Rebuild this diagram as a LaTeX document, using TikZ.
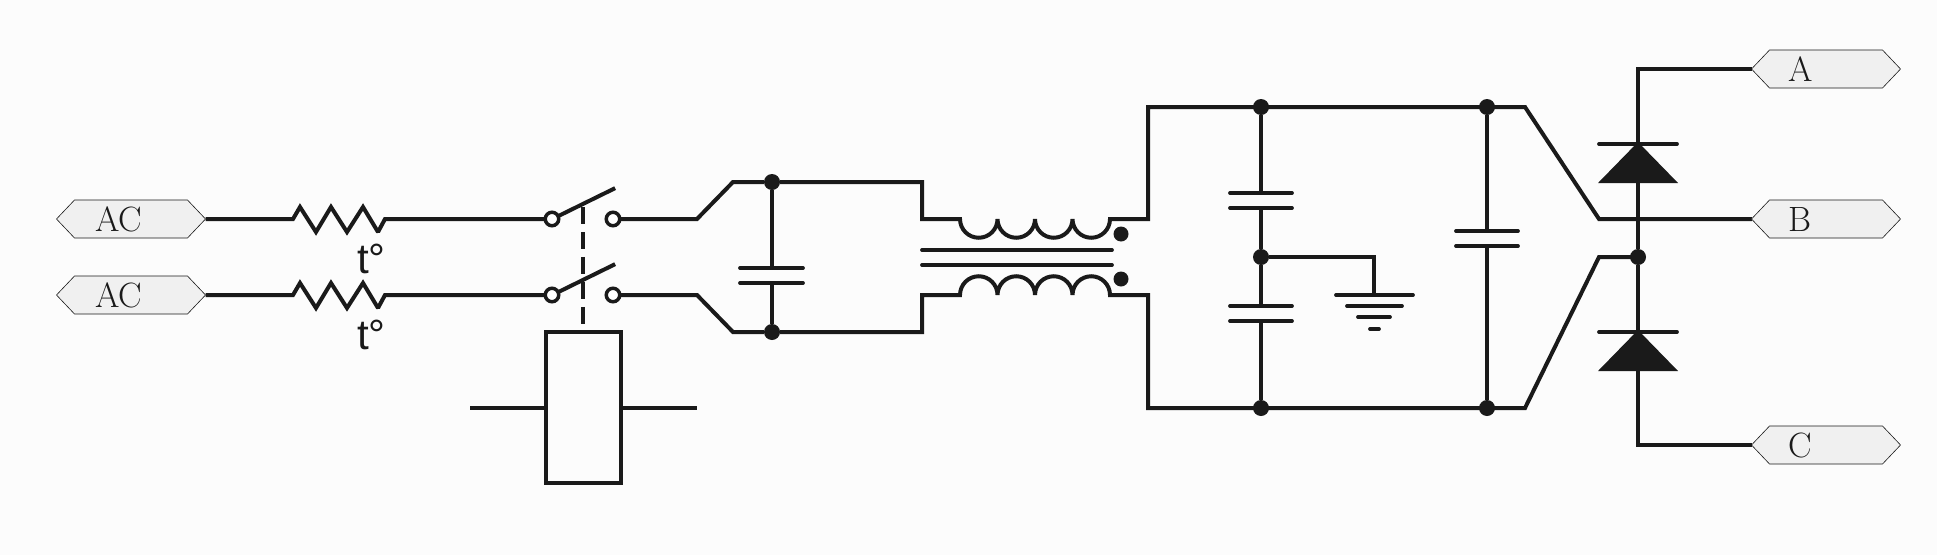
\documentclass[tikz,border=0pt]{standalone}
\usepackage{fontspec}
\newfontfamily\tempfont{Liberation Sans}
\usetikzlibrary{calc, positioning, shapes.symbols}
\definecolor{ink}{HTML}{1A1A1A}
\tikzset{
    wire/.style = {draw=ink, line width=0.08cm, line join=miter, miter limit=2},
    lead/.style = {draw=ink, line width=0.07cm},
    plate/.style = {draw=ink, line width=0.075cm, line cap=round},
    junction/.style = {circle, fill=ink, inner sep=0pt, outer sep=0pt, minimum size=0.32cm},
    terminal/.style = {circle, draw=ink, fill=white, line width=0.07cm, inner sep=0pt, outer sep=0pt, minimum size=0.27cm},
    tag/.style = {signal, signal to=east and west, signal pointer angle=93, draw=ink, line width=0.012cm, fill=black!6,
        inner xsep=0pt, inner ysep=0pt, outer sep=0pt, minimum height=0.76cm, text width=2.26cm, align=left,
        text=ink, font=\fontsize{20}{22}\selectfont},
    tempmark/.style = {inner sep=0pt, text=ink, font=\tempfont\fontsize{24}{26}\selectfont},
}
\begin{document}
\begin{tikzpicture}[x=0.02cm, y=-0.02cm]
    \fill[black!1] (0,0) rectangle (1937,555);
    \useasboundingbox (0,0) rectangle (1937,555);
    % input side
    \foreach \n/\y in {a/219,b/295}{
        \node[tag] (ac\n) at (131,\y) {\hspace{0.41cm}AC};
        \node[terminal] (sl\n) at (552,\y) {};
        \node[terminal] (sr\n) at (613,\y) {};
        \node[tempmark] (temp\n) at (371.5,\y+40) {t\textdegree};
        \draw[wire] (ac\n.east) -- (293,\y) -- ++(7,-12) -- ++(16,25) -- ++(15,-25) -- ++(16,25)
            -- ++(16,-25) -- ++(15,25) -- ++(7,-13) -- (sl\n.west);
        \draw[wire] (sl\n.25) -- ++(57,-28);
    }
    % relay
    \node[draw=ink, line width=0.08cm, minimum width=1.5cm, minimum height=3.02cm, inner sep=0pt] (relay) at (583.5,407.5) {};
    \coordinate (gang) at (583,207);
    \draw[lead, dash pattern=on 0.34cm off 0.16cm] (gang) -- (gang |- relay.north);
    \coordinate (coilL) at (470,407.5);
    \coordinate (coilR) at (697,407.5);
    \draw[wire] (coilL) -- (relay.west);
    \draw[wire] (relay.east) -- (coilR);
    % line filter
    \node[junction] (fa) at (772,182) {};
    \node[junction] (fb) at (772,332) {};
    \coordinate (capFa) at (772,268);
    \coordinate (capFb) at (772,283);
    \draw[wire] (sra.east) -- (697,219) -- (733,182) -- (fa) -- (922,182) -- (922,219) -- (960,219)
        arc[start angle=180, end angle=0, radius=18.75] arc[start angle=180, end angle=0, radius=18.75]
        arc[start angle=180, end angle=0, radius=18.75] arc[start angle=180, end angle=0, radius=18.75]
        -- (1148,219) -- (1148,107) -- (1525,107) -- (1599,219) -- (1752,219);
    \draw[wire] (srb.east) -- (697,295) -- (733,332) -- (fb) -- (922,332) -- (922,295) -- (960,295)
        arc[start angle=180, end angle=360, radius=18.75] arc[start angle=180, end angle=360, radius=18.75]
        arc[start angle=180, end angle=360, radius=18.75] arc[start angle=180, end angle=360, radius=18.75]
        -- (1148,295) -- (1148,408) -- (1525,408) -- (1599,257) -- (1638,257);
    \draw[lead] (fa) -- (capFa) (capFb) -- (fb);
    \draw[plate] (740,268) -- (803,268) (740,283) -- (803,283);
    \draw[plate] (922,250) -- (1112,250) (922,265) -- (1112,265);
    \node[junction, minimum size=0.3cm] (dota) at (1121,234) {};
    \node[junction, minimum size=0.3cm] (dotb) at (1121,279) {};
    % dc link
    \node[junction] (ma) at (1261,107) {};
    \node[junction] (mc) at (1261,257) {};
    \node[junction] (mb) at (1261,408) {};
    \node[junction] (ra) at (1487,107) {};
    \node[junction] (rb) at (1487,408) {};
    \draw[lead] (ma) -- (1261,193) (1261,208) -- (mc) -- (1261,306) (1261,321) -- (mb);
    \draw[lead] (ra) -- (1487,231) (1487,246) -- (rb);
    \foreach \x/\y in {1261/193,1261/208,1261/306,1261/321,1487/231,1487/246}{
        \draw[plate] (\x-31,\y) -- (\x+31,\y);
    }
    % earth
    \coordinate (earth) at (1374,295);
    \draw[lead] (mc) -| (earth);
    \draw[plate] (1336,295) -- (1413,295) (1347,306) -- (1402,306) (1358,317) -- (1390,317) (1370,329) -- (1379,329);
    % output
    \node[tag] (tA) at (1826,69) {\hspace{0.38cm}A};
    \node[tag] (tB) at (1826,219) {\hspace{0.38cm}B};
    \node[tag] (tC) at (1826,445) {\hspace{0.38cm}C};
    \node[junction] (out) at (1638,257) {};
    \draw[wire] (tA.west) -- (1638,69) -- (1638,146);
    \draw[wire] (1638,180) -- (out) -- (1638,332);
    \draw[wire] (1638,368) -- (1638,445) -- (tC.west);
    \foreach \y in {144,332}{
        \draw[plate] (1599,\y) -- (1677,\y);
        \fill[ink] (1638,\y-2) -- (1678,\y+39) -- (1598,\y+39) -- cycle;
    }
\end{tikzpicture}
\end{document}
